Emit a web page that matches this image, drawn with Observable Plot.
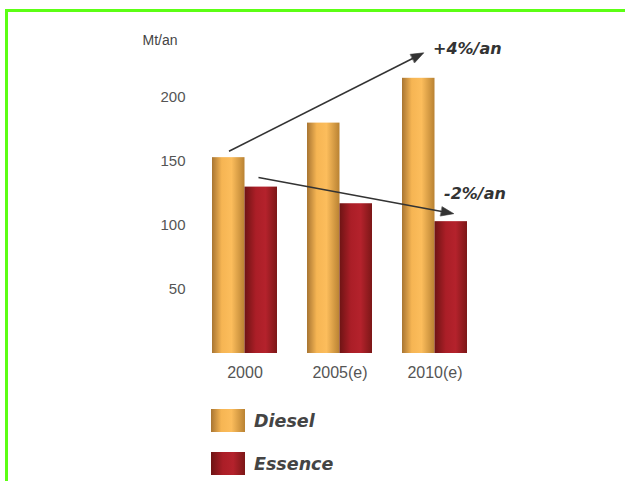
<!DOCTYPE html>
<html><head><meta charset="utf-8">
<script src="https://cdn.jsdelivr.net/npm/d3@7"></script>
<script src="https://cdn.jsdelivr.net/npm/@observablehq/plot@0.6"></script>
<style>
body{margin:0;background:#fff;}
#wrap{position:relative;width:625px;height:481px;overflow:hidden;background:#fff;}
.bt{position:absolute;left:5px;top:9px;right:0;height:3px;background:#5cff14;}
.bl{position:absolute;left:5px;top:9px;width:3px;bottom:0;background:#5cff14;}
#chart{position:absolute;left:0;top:0;}
.leg{position:absolute;left:211px;display:flex;align-items:center;font-family:"DejaVu Sans",sans-serif;font-weight:bold;font-style:oblique;font-size:17.5px;color:#444;}
.sw{width:34px;height:23px;margin-right:9px;}
</style></head>
<body>
<div id="wrap">
  <div class="bt"></div><div class="bl"></div>
  <div id="chart"></div>
  <div class="leg" style="top:409px"><div class="sw" id="swD"></div><span>Diesel</span></div>
  <div class="leg" style="top:452px"><div class="sw" id="swE"></div><span>Essence</span></div>
</div>
<script>
const years = ["2000", "2005(e)", "2010(e)"];
const series = ["Diesel", "Essence"];
const dieselValues = [153, 180, 215];
const essenceValues = [130, 117, 103];
const yTicks = [50, 100, 150, 200];
const unitLabel = "Mt/an";
const trendLabels = ["+4%/an", "-2%/an"];
const trendFrom = ["2000", "2000"];
const trendTo = ["2010(e)", "2010(e)"];
const trendY1 = [158, 137.5];
const trendY2 = [233, 110];
const trendLabelY = [238, 125];

const gradients = {
  Diesel: [["0%", "#a87532"], ["30%", "#f6b553"], ["60%", "#fcbd5c"], ["100%", "#b98232"]],
  Essence: [["0%", "#6e1414"], ["35%", "#ab1e27"], ["65%", "#b4222c"], ["100%", "#7c1717"]]
};

const rows = [];
years.forEach((yr, i) => {
  rows.push({year: yr, series: "Diesel", value: dieselValues[i]});
  rows.push({year: yr, series: "Essence", value: essenceValues[i]});
});
const trends = trendLabels.map((t, i) => ({label: t, from: trendFrom[i], to: trendTo[i], y1: trendY1[i], y2: trendY2[i], ly: trendLabelY[i]}));

// layout
const W = 625, H = 400, mL = 196.5, mR = 143.5, mT = 58.6, mB = 47;
const padIn = 30 / 95, padOut = 15 / 95;
const step = (W - mL - mR) / (years.length - padIn + 2 * padOut);
const half = step * (1 - padIn) / 2;

const defsMark = () => {
  const defs = d3.create("svg:defs");
  for (const s of series) {
    const g = defs.append("linearGradient").attr("id", "g" + s).attr("x1", "0").attr("x2", "1").attr("y1", "0").attr("y2", "0");
    for (const [o, c] of gradients[s]) g.append("stop").attr("offset", o).attr("stop-color", c);
  }
  return defs.node();
};

const chart = Plot.plot({
  width: W, height: H,
  marginLeft: mL, marginRight: mR, marginTop: mT, marginBottom: mB,
  style: {fontFamily: "'Liberation Sans', Arial, sans-serif", color: "#555", background: "transparent"},
  x: {type: "band", domain: years, paddingInner: padIn, paddingOuter: padOut},
  y: {domain: [0, 230]},
  marks: [
    defsMark,
    Plot.axisY({ticks: yTicks, tickSize: 0, tickPadding: 11.5, fontSize: 15, label: null, fill: "#555"}),
    Plot.axisX({tickSize: 0, tickPadding: 13, fontSize: 16, label: null, fill: "#555"}),
    Plot.barY(rows.filter(d => d.series === "Diesel"), {x: "year", y: "value", fill: "url(#gDiesel)", insetRight: half}),
    Plot.barY(rows.filter(d => d.series === "Essence"), {x: "year", y: "value", fill: "url(#gEssence)", insetLeft: half}),
    Plot.link(trends.slice(0, 1), {x1: "from", x2: "to", y1: "y1", y2: "y2", dx: -16, stroke: "#333", strokeWidth: 1.5, markerEnd: "arrow"}),
    Plot.link(trends.slice(1, 2), {x1: "from", x2: "to", y1: "y1", y2: "y2", dx: 13.5, stroke: "#333", strokeWidth: 1.5, markerEnd: "arrow"}),
    Plot.text(trends.slice(0, 1), {x: "to", y: "ly", text: "label", dx: -2, textAnchor: "start", lineAnchor: "middle", fontSize: 16, fontWeight: "bold", fontStyle: "oblique", fill: "#333", fontFamily: "DejaVu Sans"}),
    Plot.text(trends.slice(1, 2), {x: "to", y: "ly", text: "label", dx: 9, textAnchor: "start", lineAnchor: "middle", fontSize: 16, fontWeight: "bold", fontStyle: "oblique", fill: "#333", fontFamily: "DejaVu Sans"}),
    Plot.text([unitLabel], {frameAnchor: "top-left", text: d => d, dx: 142 - mL, dy: 40 - mT, textAnchor: "start", lineAnchor: "middle", fontSize: 14, fill: "#444"})
  ]
});

// filled arrowheads
chart.querySelectorAll("marker").forEach(m => {
  m.setAttribute("markerWidth", 12);
  m.setAttribute("markerHeight", 12);
  m.setAttribute("fill", "#333");
  m.setAttribute("stroke-width", 0.3);
  const p = m.querySelector("path");
  if (p) p.setAttribute("d", "M-4,-2.6L3,0L-4,2.6Z");
});

document.getElementById("chart").appendChild(chart);

const css = s => "linear-gradient(to right," + gradients[s].map(([o, c]) => c + " " + o).join(",") + ")";
document.getElementById("swD").style.background = css("Diesel");
document.getElementById("swE").style.background = css("Essence");
</script>
</body></html>
